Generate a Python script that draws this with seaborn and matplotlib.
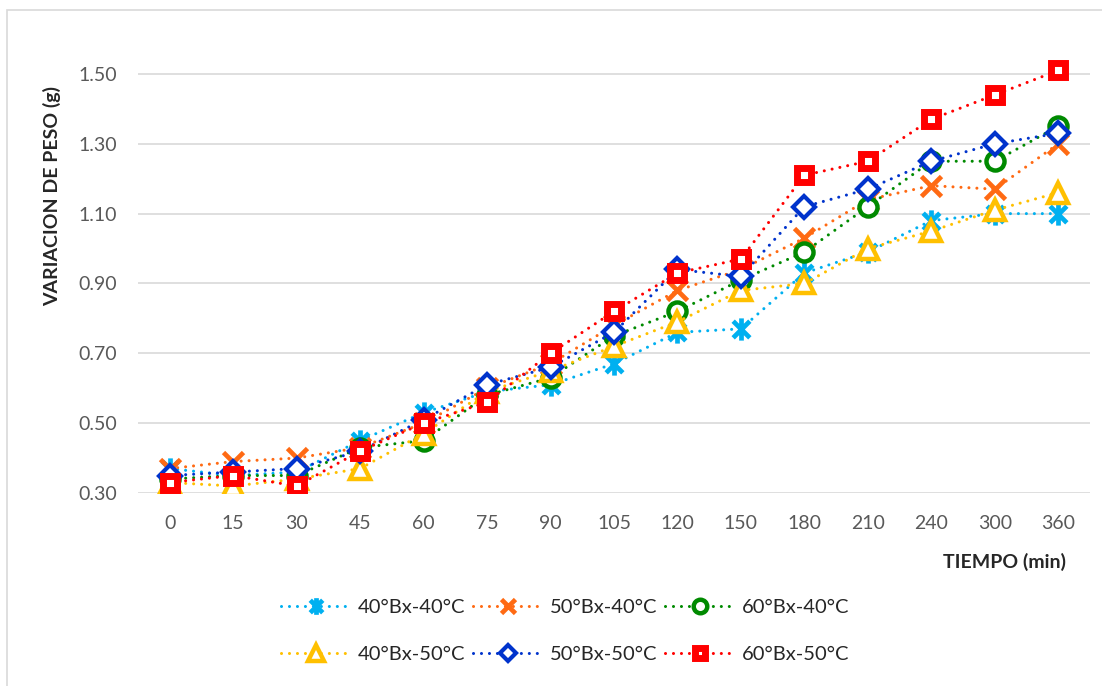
import pandas as pd
import seaborn as sns
import matplotlib.pyplot as plt
from matplotlib.path import Path
from matplotlib.patches import Rectangle

# data
tiempo = ["0", "15", "30", "45", "60", "75", "90", "105", "120", "150", "180", "210", "240", "300", "360"]
series_names = ["40°Bx-40°C", "50°Bx-40°C", "60°Bx-40°C", "40°Bx-50°C", "50°Bx-50°C", "60°Bx-50°C"]
b40_t40 = [0.37, 0.35, 0.36, 0.45, 0.53, 0.59, 0.61, 0.67, 0.76, 0.77, 0.93, 0.99, 1.08, 1.10, 1.10]
b50_t40 = [0.37, 0.39, 0.40, 0.43, 0.50, 0.60, 0.67, 0.78, 0.88, 0.94, 1.03, 1.14, 1.18, 1.17, 1.30]
b60_t40 = [0.34, 0.35, 0.35, 0.43, 0.45, 0.58, 0.63, 0.75, 0.82, 0.91, 0.99, 1.12, 1.25, 1.25, 1.35]
b40_t50 = [0.33, 0.32, 0.34, 0.37, 0.47, 0.59, 0.65, 0.72, 0.79, 0.88, 0.90, 1.00, 1.05, 1.11, 1.16]
b50_t50 = [0.35, 0.36, 0.37, 0.42, 0.51, 0.61, 0.66, 0.76, 0.94, 0.92, 1.12, 1.17, 1.25, 1.30, 1.33]
b60_t50 = [0.33, 0.35, 0.32, 0.42, 0.50, 0.56, 0.70, 0.82, 0.93, 0.97, 1.21, 1.25, 1.37, 1.44, 1.51]
y_ticks = [0.30, 0.50, 0.70, 0.90, 1.10, 1.30, 1.50]

colors = ["#00B0F0", "#FF6A13", "#008A00", "#FFC000", "#0033CC", "#FF0000"]

all_values = [b40_t40, b50_t40, b60_t40, b40_t50, b50_t50, b60_t50]
df = pd.DataFrame({
    "tiempo": tiempo * len(series_names),
    "peso": [v for vals in all_values for v in vals],
    "serie": [name for name in series_names for _ in tiempo],
})

# asterisk marker like the excel "star"
star = Path([(0, -1), (0, 1), (-0.75, -0.75), (0.75, 0.75), (-0.75, 0.75), (0.75, -0.75)],
            [Path.MOVETO, Path.LINETO, Path.MOVETO, Path.LINETO, Path.MOVETO, Path.LINETO])
markers = [star, "x", "o", "^", "D", "s"]
sizes = [16, 14, 13, 15, 11, 10]
edges = [3.4, 3.4, 3.2, 3.2, 3.0, 5.0]

sns.set_style("white")
plt.rcParams["font.family"] = ["Lato", "DejaVu Sans"]

fig = plt.figure(figsize=(11.02, 6.86), dpi=100)
ax = fig.add_axes([138 / 1102, 193 / 686, 952 / 1102, 454 / 686])

sns.pointplot(data=df, x="tiempo", y="peso", hue="serie", order=tiempo,
              hue_order=series_names, palette=colors, errorbar=None,
              legend=False, ax=ax)

lines = list(ax.lines)
for line, c, m, s, e in zip(lines, colors, markers, sizes, edges):
    line.set_marker(m)
    line.set_markersize(s)
    line.set_markeredgewidth(e)
    line.set_markeredgecolor(c)
    line.set_markerfacecolor("white")
    line.set_linewidth(2.2)
    line.set_linestyle((0, (0.01, 2.6)))
    line.set_dash_capstyle("round")

ax.set_ylim(0.30, 1.60)
ax.set_yticks(y_ticks)
ax.set_yticklabels([f"{v:.2f}" for v in y_ticks])
ax.grid(axis="y", color="#D9D9D9", linewidth=1.2)
ax.set_axisbelow(True)
for sp in ax.spines.values():
    sp.set_visible(False)
ax.tick_params(axis="both", length=0, labelsize=14, labelcolor="#595959")
ax.tick_params(axis="y", pad=15)
ax.tick_params(axis="x", pad=16)
ax.set_xlabel("")
ax.set_ylabel("")

fig.text(52 / 1102, 1 - 196 / 686, "VARIACION DE PESO (g)", rotation=90,
         ha="center", va="center", fontsize=14, fontweight="bold")
fig.text(1066 / 1102, 1 - 562 / 686, "TIEMPO (min)", ha="right", va="center",
         fontsize=14, fontweight="bold")

order = [0, 3, 1, 4, 2, 5]
leg = fig.legend([lines[i] for i in order], [series_names[i] for i in order],
                 ncol=3, loc="center", bbox_to_anchor=(565 / 1102, 1 - 631 / 686),
                 frameon=False, fontsize=14.5, handlelength=3.5, handletextpad=0.3,
                 columnspacing=0.4, labelspacing=1.45, markerscale=0.75)

# chart-area border (left/top visible)
fig.patches.append(Rectangle((7 / 1102, -0.1), 1.2, 1.1 - 10 / 686, transform=fig.transFigure,
                             fill=False, edgecolor="#D9D9D9", linewidth=1.2))

fig.savefig("out.png", dpi=100)
